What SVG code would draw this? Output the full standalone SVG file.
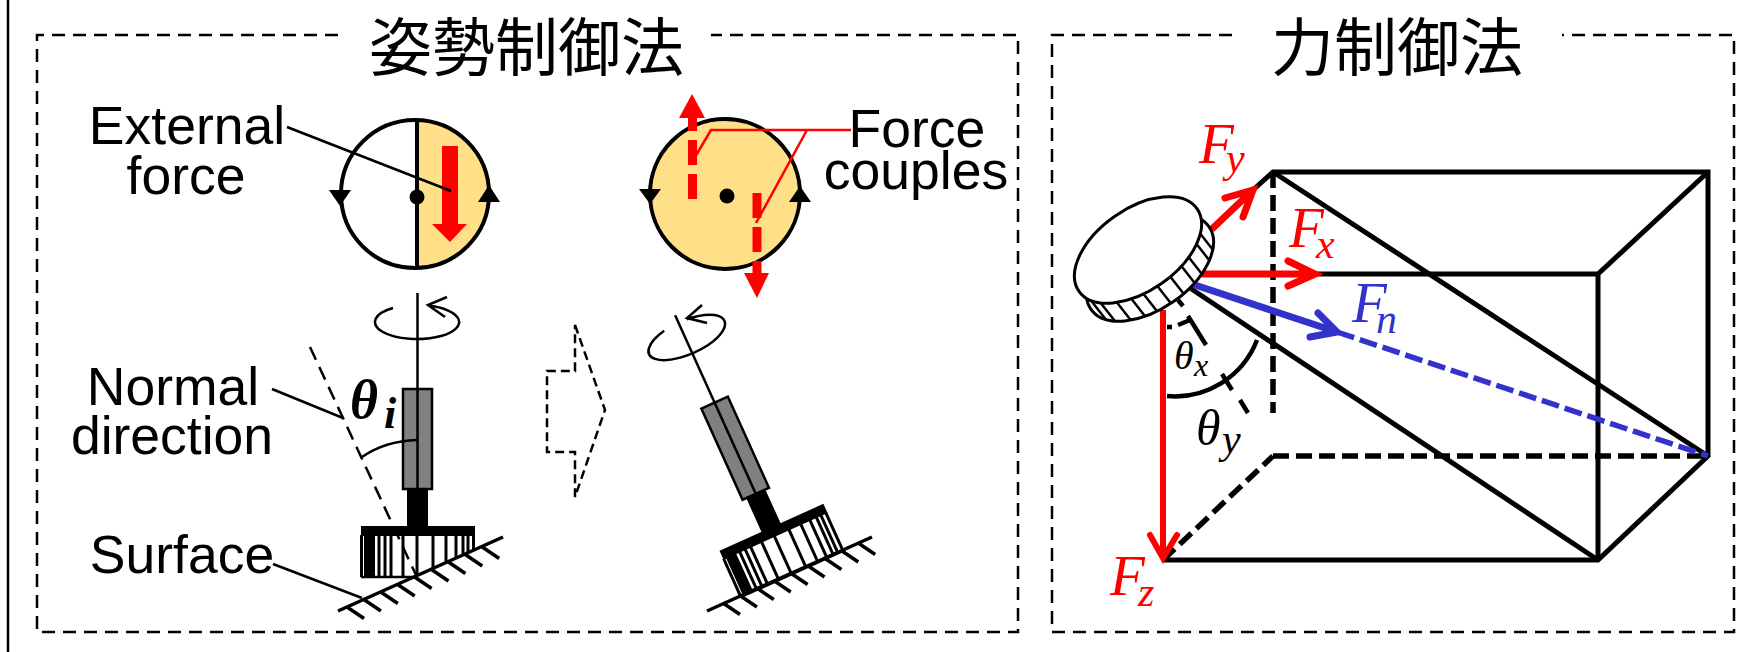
<svg xmlns="http://www.w3.org/2000/svg" xmlns:xlink="http://www.w3.org/1999/xlink" width="1745" height="652" viewBox="0 0 1745 652">
<style>
text{font-family:"Liberation Sans",Arial,sans-serif;font-size:53.500px;fill:#000}
.t{font-family:"Noto Sans CJK JP","Noto Sans CJK SC",sans-serif;font-size:63px}
.m{text-anchor:middle}
.f{font-family:"Liberation Serif",serif;font-style:italic;font-size:57px}
.s{font-family:"Liberation Serif",serif;font-style:italic;font-size:42px}
.r{fill:#f00}.b{fill:#33c}
.box{fill:none;stroke:#000;stroke-width:2.500;stroke-dasharray:13 8}
.l{fill:none;stroke:#000;stroke-width:2.500}
.k{fill:none;stroke:#000;stroke-width:5}
.kd{fill:none;stroke:#000;stroke-width:5.500;stroke-dasharray:16 7}
.red{fill:none;stroke:#f00;stroke-width:7;stroke-linecap:round}
.blu{fill:none;stroke:#33c;stroke-width:7;stroke-linecap:round}
.c{stroke:#000;stroke-width:4}
.y{fill:#ffdf88}
</style>
<defs>
<g id="tool">
<path d="M417.500,293V489" class="l"/>
<rect x="403" y="389" width="29" height="100" fill="#808080" stroke="#000" stroke-width="2.500"/>
<path d="M417.500,389V489" class="l"/>
<rect x="407" y="489" width="21" height="38" fill="#000"/>
<rect x="361" y="526" width="114" height="10" fill="#000"/>
</g>
<g id="bristles">
<rect x="364" y="535" width="11" height="42" fill="#000"/>
<path d="M361.500,535V577M379,535V577M385,535V577M391,535V577M403,535V577M417,535V577M433,535V577M446,535V577M456,535V577M463,535V577M468,535V577M473.500,535V577" fill="none" stroke="#000" stroke-width="3"/>
<path d="M361,577H475" fill="none" stroke="#000" stroke-width="2.500"/>
</g>
<clipPath id="cut"><path d="M358,535H478V549L417,576.500V580H358Z"/></clipPath>
<g id="ticks">
<path d="M0,0l17,11.500M16.900,-7.500l17,11.500M33.800,-15l17,11.500M50.700,-22.500l17,11.500M67.600,-30l17,11.500M84.500,-37.500l17,11.500M101.400,-45l17,11.500M118.300,-52.500l17,11.500M135.200,-60l17,11.500" fill="none" stroke="#000" stroke-width="3.500"/>
</g>
<clipPath id="rim"><ellipse cx="1150" cy="268" rx="72" ry="41" transform="rotate(-35 1150 268)"/></clipPath>
</defs>
<rect width="1745" height="652" fill="#fff"/>

<g id="frames">
<path d="M8,0V652" fill="none" stroke="#000" stroke-width="2.500"/>
<path class="box" d="M338,35H37V632H1018V35H711"/>
<path class="box" d="M1232,35H1052V632H1734V35H1562"/>
</g>

<g id="title-posture"><text class="t" x="369" y="70">姿勢制御法</text></g>
<g id="title-force"><text class="t" x="1271" y="70">力制御法</text></g>

<g id="disk-external">
<path class="y" d="M417,120A74,74 0 0 1 417,268Z"/>
<circle cx="415" cy="194" r="74" fill="none" stroke="#000" stroke-width="4"/>
<path d="M417,119V269" class="c"/>
<circle cx="417" cy="197" r="7.500" fill="#000"/>
<path d="M329,190H351L340,206Z M489,185L500,202H478Z" fill="#000"/>
<path d="M442,146H458V224H467L450,242L432,224H442Z" fill="#f00"/>
</g>

<g id="label-external">
<text class="m" x="187" y="144">External</text>
<text class="m" x="186" y="194">force</text>
</g>

<g id="disk-couples">
<circle cx="725" cy="194" r="75" class="y" stroke="#000" stroke-width="4"/>
<circle cx="727" cy="196" r="7.500" fill="#000"/>
<path d="M639,189H661L650,204Z M800,186L811,202H789Z" fill="#000"/>
<path d="M692.500,199V118" fill="none" stroke="#f00" stroke-width="9" stroke-dasharray="25 9"/>
<path d="M692,94L705,118H679Z" fill="#f00"/>
<path d="M757,193V273" fill="none" stroke="#f00" stroke-width="9" stroke-dasharray="25 9"/>
<path d="M757,298L744,273H769Z" fill="#f00"/>
</g>

<g id="label-couples">
<text class="m" x="917" y="147">Force</text>
<text class="m" x="916" y="189">couples</text>
</g>

<g id="tool-left">
<use xlink:href="#tool" href="#tool"/>
<use xlink:href="#bristles" href="#bristles" clip-path="url(#cut)"/>
<path d="M338,611L503,537" fill="none" stroke="#000" stroke-width="3.500"/>
<use xlink:href="#ticks" href="#ticks" x="347" y="607"/>
<path class="l" d="M393,308A42,17 0 0 0 441,336A42,17 0 0 0 428,305.600M447,297L428,305L445,317"/>
<path d="M310,347L416,575" fill="none" stroke="#000" stroke-width="2.500" stroke-dasharray="14 8"/>
<path class="l" d="M362,457Q385,441 417,440"/>
<text class="s" x="350" y="418" style="font-size:54px;font-weight:700">θ</text>
<text class="s" x="384" y="428" style="font-size:44px;font-weight:700">i</text>
</g>

<g id="label-normal">
<text class="m" x="173" y="405">Normal</text>
<text class="m" x="172" y="454">direction</text>
</g>
<g id="label-surface"><text class="m" x="182" y="573">Surface</text></g>

<g id="block-arrow">
<path d="M575,325L605,410L575,497V452H547V371H575Z" fill="none" stroke="#000" stroke-width="2.500" stroke-dasharray="9 5"/>
</g>

<g id="tool-right">
<g transform="translate(771,527.500) rotate(-24.300) translate(-417.500,-526)">
<use xlink:href="#tool" href="#tool"/>
<use xlink:href="#bristles" href="#bristles"/>
</g>
<path d="M707,611L872,537" fill="none" stroke="#000" stroke-width="3.500"/>
<use xlink:href="#ticks" href="#ticks" x="723" y="603"/>
<path class="l" d="M664.200,330.700A42,17 -24 0 0 707.800,345.300A42,17 -24 0 0 686.900,319.300M702,305L687,318L707,323"/>
</g>

<g id="prism">
<path class="kd" d="M1273,172V413"/>
<path class="kd" d="M1273,456H1708"/>
<path class="kd" d="M1163,560L1273,456"/>
<path class="k" d="M1253,190L1273,172H1708V456L1598,560H1163"/>
<path class="k" d="M1315,274H1598V560M1598,274L1708,172"/>
<path class="k" d="M1273,172L1708,456"/>
<path class="k" d="M1190,288L1598,560"/>
</g>

<g id="angles">
<path d="M1178,300L1183,306M1188,316L1206,345M1222,374L1232,390M1240,400L1248,413" fill="none" stroke="#000" stroke-width="4.500"/>
<path d="M1167,327H1172M1178,325L1190,320" fill="none" stroke="#000" stroke-width="4.500"/>
<path d="M1167,396A88,88 0 0 0 1257,340" fill="none" stroke="#000" stroke-width="4.500"/>
<text class="s" x="1174" y="369" style="font-size:40px">θ</text>
<text class="s" x="1194" y="376" style="font-size:32px">x</text>
<text class="s" x="1196" y="445" style="font-size:50px">θ</text>
<text class="s" x="1222" y="453" style="font-size:42px">y</text>
</g>

<g id="force-arrows">
<path class="red" d="M1213,228L1253,190M1225,198L1253,190L1243,217"/>
<path class="red" d="M1203,274H1315M1288,261L1315,274L1288,286"/>
<path class="blu" d="M1195,285L1337,332M1318,313L1337,332L1310,337"/>
<path d="M1337,332L1708,456" fill="none" stroke="#33c" stroke-width="5.500" stroke-dasharray="18 6"/>
<path d="M1163,310V558" fill="none" stroke="#f00" stroke-width="6"/>
<path class="red" d="M1150,535L1163,558L1177,535" style="stroke-width:6"/>
</g>

<g id="disc">
<ellipse cx="1150" cy="268" rx="72" ry="41" transform="rotate(-35 1150 268)" fill="#fff" stroke="#000" stroke-width="3"/>
<g clip-path="url(#rim)"><path d="M1199,232l18,23M1195,242l18,23M1187,255l18,23M1179,263l18,23M1169,275l18,23M1155,283l18,23M1142,292l18,23M1130,297l18,23M1115,300l18,23M1100,302l18,23M1089,298l18,23" fill="none" stroke="#000" stroke-width="2.500"/></g>
<ellipse cx="1138" cy="250" rx="72" ry="41" transform="rotate(-35 1138 250)" fill="#fff" stroke="#000" stroke-width="3"/>
</g>

<g id="force-labels">
<text class="f r" x="1199" y="163">F</text>
<text class="s r" x="1226" y="172">y</text>
<text class="f r" x="1289" y="247">F</text>
<text class="s r" x="1316" y="258">x</text>
<text class="f b" x="1352" y="322">F</text>
<text class="s b" x="1376" y="333">n</text>
<text class="f r" x="1110" y="595">F</text>
<text class="s r" x="1138" y="606">z</text>
</g>

<g id="connectors">
<path class="l" d="M287,127L451,191"/>
<path class="l" d="M272,389L343,418"/>
<path class="l" d="M273,564L362,598"/>
<path d="M851,130H711L695,157M807,130L756,223" fill="none" stroke="#f00" stroke-width="2.500"/>
</g>
</svg>
